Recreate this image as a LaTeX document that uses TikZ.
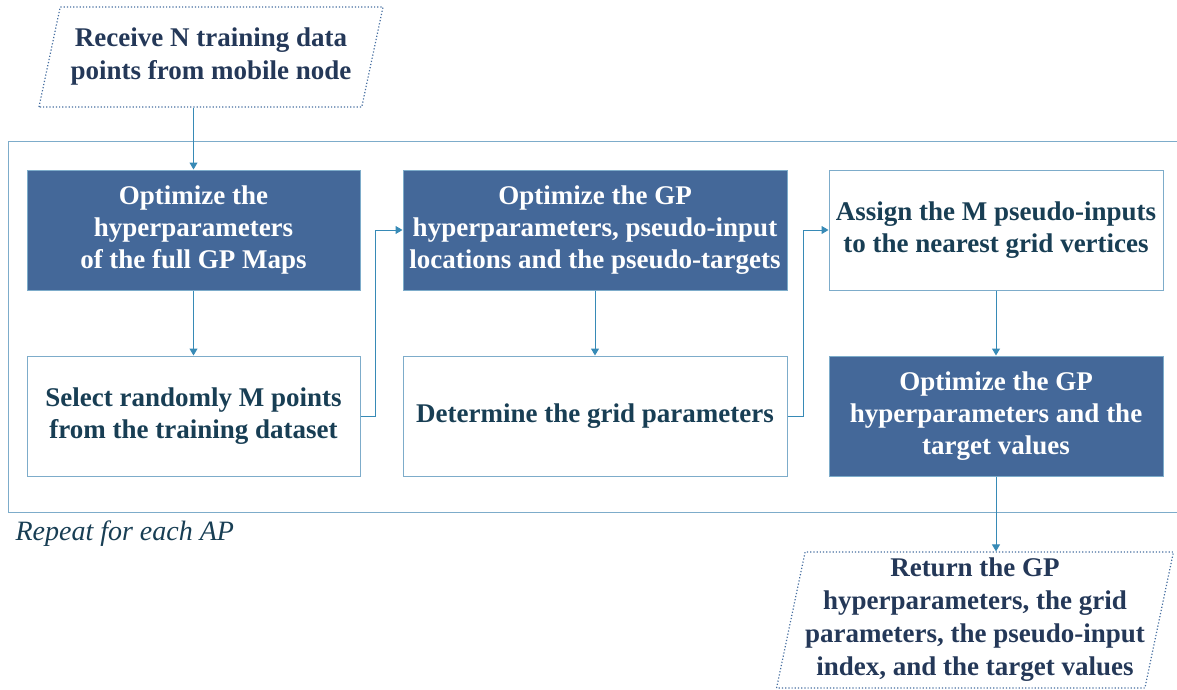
\documentclass[tikz,border=0pt]{standalone}
\usepackage{fontspec}
\setmainfont{Liberation Serif}
\usepackage{xcolor}
\usetikzlibrary{arrows.meta,positioning,shapes.geometric}

\definecolor{boxblue}{RGB}{68,104,153}
\definecolor{edgeblue}{RGB}{125,172,202}
\definecolor{arrowblue}{RGB}{55,138,182}
\definecolor{inktext}{RGB}{24,62,84}
\definecolor{navytext}{RGB}{36,56,88}
\definecolor{dotblue}{RGB}{70,110,160}

\begin{document}
\begin{tikzpicture}[
x=1pt,y=-1pt,
node distance=65pt and 42pt,
box/.style={draw=edgeblue,line width=1pt,align=center,inner sep=0pt,minimum height=120pt,
  font=\fontsize{27}{32}\selectfont\bfseries},
filledbox/.style={box,fill=boxblue,text=white},
plainbox/.style={box,fill=white,text=inktext},
io/.style={trapezium,trapezium stretches=true,draw=dotblue,dotted,line width=1.2pt,
  align=center,text=navytext,inner sep=0pt,font=\fontsize{27}{33}\selectfont\bfseries},
arrow/.style={-{Triangle[length=7pt,width=8pt]},draw=arrowblue,line width=1pt}
]
\useasboundingbox (0,0) rectangle (1177,690);

% loop frame, open on the right
\draw[edgeblue,line width=1pt] (1177,141) -- (8,141) -- (8,512) -- (1177,512);
\node[anchor=west,text=inktext,font=\fontsize{28}{32}\selectfont\itshape] (rep) at (12,534) {Repeat for each AP};

\node[io,trapezium left angle=71,trapezium right angle=109,minimum width=345pt,minimum height=100pt] (recv) at (211,57)
  {Receive N training data\\points from mobile node};

\node[filledbox,minimum width=333pt] (opt1) at (193.5,230) {Optimize the\\hyperparameters\\of the full GP Maps};
\node[plainbox,minimum width=333pt,below=of opt1] (select) {Select randomly M points\\from the training dataset};
\node[filledbox,minimum width=384pt,right=of opt1] (opt2) {Optimize the GP\\hyperparameters, pseudo-input\\locations and the pseudo-targets};
\node[plainbox,minimum width=384pt,below=of opt2] (grid) {Determine the grid parameters};
\node[plainbox,minimum width=334pt,right=41pt of opt2] (assign) {Assign the M pseudo-inputs\\to the nearest grid vertices};
\node[filledbox,minimum width=334pt,below=of assign] (opt3) {Optimize the GP\\hyperparameters and the\\target values};

\node[io,trapezium left angle=77,trapezium right angle=103,minimum width=394pt,minimum height=136pt] (ret) at (975,620)
  {Return the GP\\hyperparameters, the grid\\parameters, the pseudo-input\\index, and the target values};

\draw[arrow] (recv.south -| opt1.north) -- (opt1.north);
\draw[arrow] (opt1) -- (select);
\draw[arrow] (select.east) -- ++(15,0) |- (opt2.west);
\draw[arrow] (opt2) -- (grid);
\draw[arrow] (grid.east) -- ++(16,0) |- (assign.west);
\draw[arrow] (assign) -- (opt3);
\draw[arrow] (opt3.south) -- (opt3.south |- ret.north);
\end{tikzpicture}
\end{document}
